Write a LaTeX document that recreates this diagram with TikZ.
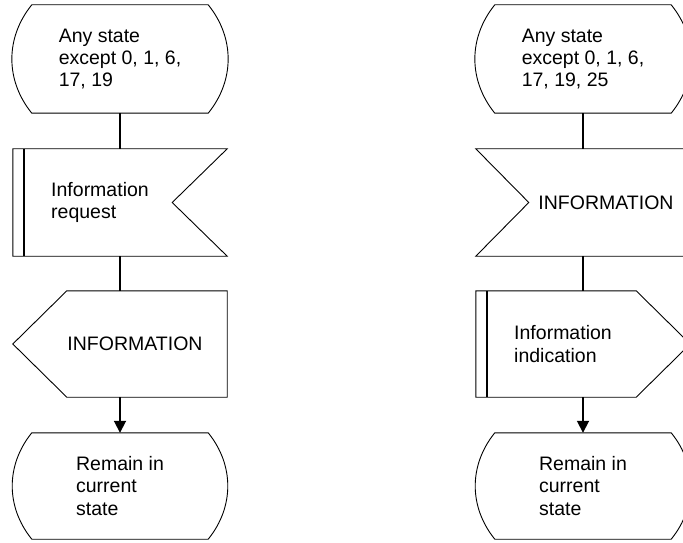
\documentclass[tikz,border=0pt]{standalone}
\usepackage{fontspec}
\setmainfont{Liberation Sans}
\usetikzlibrary{arrows.meta,calc}
\begin{document}
\begin{tikzpicture}[x=1pt,y=1pt,
  txt/.style={font=\fontsize{19.5pt}{22.4pt}\selectfont,align=left,text=black},
  boxnode/.style={shape=rectangle,inner sep=0pt,minimum width=214pt,draw=none,txt},
  boxline/.style={draw=black,line width=0.9pt,line join=miter},
  barline/.style={draw=black,line width=1.8pt},
  conn/.style={draw=black,line width=1.8pt},
  arr/.style={conn,-{Triangle[length=12pt,width=12pt]}}
]
\useasboundingbox (0,0) rectangle (683,542);
\newcommand\stateoutline[1]{%
  \draw[boxline] ([xshift=19pt]#1.north west) -- ([xshift=-19pt]#1.north east)
    to[bend left=39] ([xshift=-19pt]#1.south east) -- ([xshift=19pt]#1.south west)
    to[bend left=39] cycle;}
% ---------- left column ----------
\node[boxnode,minimum height=108pt] (s1) at (120,483) {Any state\\except 0, 1, 6,\\17, 19};
\node[boxnode,minimum height=107pt,
  label={[txt,xshift=-20pt]center:Information\\request}] (in1) at (120,339.5) {};
\node[boxnode,minimum height=106pt,
  label={[txt,xshift=15pt]center:INFORMATION}] (out1) at (120,198) {};
\node[boxnode,minimum height=106pt] (s2) at (120,56) {Remain in\\current\\state};
% ---------- right column ----------
\node[boxnode,minimum height=108pt] (s3) at (583,483) {Any state\\except 0, 1, 6,\\17, 19, 25};
\node[boxnode,minimum height=107pt,
  label={[txt,xshift=23pt]center:INFORMATION}] (in2) at (583,339.5) {};
\node[boxnode,minimum height=106pt,
  label={[txt,xshift=-20pt]center:Information\\indication}] (out2) at (583,198) {};
\node[boxnode,minimum height=106pt] (s4) at (583,56) {Remain in\\current\\state};
% ---------- outlines ----------
\stateoutline{s1}
\stateoutline{s2}
\stateoutline{s3}
\stateoutline{s4}
% input (left): notch on the right, bar on the left
\draw[boxline] (in1.north west) -- (in1.north east) -- ([xshift=-55pt]in1.east)
  -- (in1.south east) -- (in1.south west) -- cycle;
\draw[barline] ([xshift=11pt]in1.north west) -- ([xshift=11pt]in1.south west);
% output (left): point on the left
\draw[boxline] (out1.west) -- ([xshift=54pt]out1.north west) -- (out1.north east)
  -- (out1.south east) -- ([xshift=54pt]out1.south west) -- cycle;
% input (right): notch on the left
\draw[boxline] (in2.north west) -- (in2.north east) -- (in2.south east)
  -- (in2.south west) -- ([xshift=53pt]in2.west) -- cycle;
% output (right): point on the right, bar on the left
\draw[boxline] (out2.north west) -- ([xshift=-54pt]out2.north east) -- (out2.east)
  -- ([xshift=-54pt]out2.south east) -- (out2.south west) -- cycle;
\draw[barline] ([xshift=11pt]out2.north west) -- ([xshift=11pt]out2.south west);
% ---------- connectors ----------
\draw[conn] (s1.south) -- (in1.north);
\draw[conn] (in1.south) -- (out1.north);
\draw[arr] (out1.south) -- (s2.north);
\draw[conn] (s3.south) -- (in2.north);
\draw[conn] (in2.south) -- (out2.north);
\draw[arr] (out2.south) -- (s4.north);
\end{tikzpicture}
\end{document}
